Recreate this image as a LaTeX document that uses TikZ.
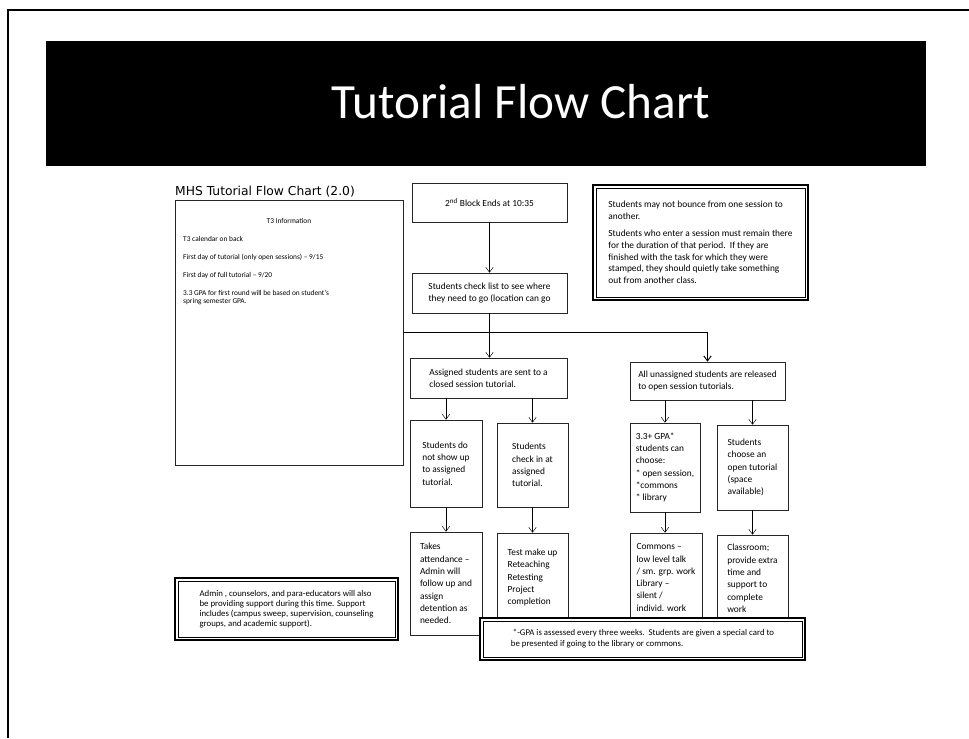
\documentclass[tikz,border=0pt]{standalone}
\usepackage{fontspec}
\setmainfont{Carlito}
\newfontfamily\headfont{DejaVu Sans}
\usetikzlibrary{positioning,arrows.meta}
\tikzset{
  flowbox/.style={draw=black!85,line width=0.5pt,fill=white,align=left,inner xsep=1.5mm,inner ysep=1.5mm,font=\fontsize{8}{10.5}\selectfont},
  notebox/.style={draw=black,line width=2.4pt,fill=white,align=left,inner sep=2mm},
  t3text/.style={inner sep=0pt,font=\fontsize{6.3}{7.5}\selectfont}
}

\begin{document}
\begin{tikzpicture}[x=0.3mm,y=-0.3mm,>={Straight Barb[length=1.5mm,width=2.2mm]}]
  \useasboundingbox (0,0) rectangle (969,738);
  \draw[line width=1.5pt] (8,738) -- (8,10) -- (969,10);
  \node[fill=black,minimum width=264mm,minimum height=37.5mm,inner sep=0pt] (banner) at (486,103.5) {};
  \node[anchor=base,text=white,font=\fontsize{42}{46}\selectfont] (title) at (521,118) {Tutorial Flow Chart};
  \node[anchor=base west,inner sep=0pt,font=\headfont\fontsize{10.5}{12}\selectfont] (heading) at (175,195) {MHS Tutorial Flow Chart (2.0)};

  \node[flowbox,minimum width=68.4mm,minimum height=79.5mm] (t3box) at (289,332.5) {};
  \node[t3text,anchor=base] (t3head) at (289,223) {T3 Information};
  \foreach \yy/\txt in {241/{T3 calendar on back},259/{First day of tutorial (only open sessions) -- 9/15},277/{First day of full tutorial -- 9/20},295/{3.3 GPA for first round will be based on student's},303/{spring semester GPA.}}
    \node[t3text,anchor=base west] (t3line\yy) at (183,\yy) {\txt};

  \node[flowbox,minimum width=46.5mm,minimum height=11.7mm] (blockend) at (489.5,202.5) {2\textsuperscript{nd} Block Ends at 10:35};
  \node[flowbox,minimum width=46.5mm,minimum height=12mm,align=center,font=\fontsize{8}{10}\selectfont] (checklist) at (489.5,293) {Students check list to see where\\they need to go (location can go};
  \node[flowbox,minimum width=47.1mm,minimum height=12mm,font=\fontsize{8}{10}\selectfont] (closed) at (488.5,378) {Assigned students are sent to a\\closed session tutorial.};
  \node[flowbox,minimum width=21.6mm,minimum height=26.1mm] (noshow) at (446,463.5) {Students do\\not show up\\to assigned\\tutorial.};
  \node[flowbox,minimum width=21.3mm,minimum height=25.2mm] (checkin) at (532.5,465) {Students\\check in at\\assigned\\tutorial.};
  \node[flowbox,minimum width=21.6mm,minimum height=30.9mm] (attend) at (446,583.5) {Takes\\attendance --\\Admin will\\follow up and\\assign\\detention as\\needed.};
  \node[flowbox,minimum width=21.3mm,minimum height=26.7mm] (reteach) at (532.5,577.5) {Test make up\\Reteaching\\Retesting\\Project\\completion};

  \node[flowbox,minimum width=46.5mm,minimum height=11.4mm,font=\fontsize{8}{10}\selectfont] (released) at (707.5,381) {All unassigned students are released\\to open session tutorials.};
  \node[flowbox,minimum width=21mm,minimum height=26.7mm] (gpachoice) at (665,467.5) {3.3+ GPA*\\students can\\choose:\\* open session,\\*commons\\* library};
  \node[flowbox,minimum width=21.3mm,minimum height=25.5mm] (choosetut) at (752.5,467.5) {Students\\choose an\\open tutorial\\(space\\available)};
  \node[flowbox,minimum width=21.6mm,minimum height=26.7mm] (commons) at (666,577.5) {Commons --\\low level talk\\/ sm. grp. work\\Library --\\silent /\\individ. work};
  \node[flowbox,minimum width=21.3mm,minimum height=26.1mm] (classroom) at (752.5,578.5) {Classroom;\\provide extra\\time and\\support to\\complete\\work};

  \node[notebox,minimum width=64.5mm,minimum height=34.5mm,font=\fontsize{8}{10}\selectfont] (rules) at (700.5,242.5) {Students may not bounce from one session to\\another.\\[1.2ex]Students who enter a session must remain there\\for the duration of that period.\ \ If they are\\finished with the task for which they were\\stamped, they should quietly take something\\out from another class.};
  \node[notebox,minimum width=66.9mm,minimum height=18.6mm,font=\fontsize{7.5}{8.4}\selectfont] (staff) at (286.5,609) {Admin , counselors, and para-educators will also\\be providing support during this time. Support\\includes (campus sweep, supervision, counseling\\groups, and academic support).};
  \node[notebox,minimum width=97.5mm,minimum height=12.6mm,font=\fontsize{7.5}{9.5}\selectfont] (gpanote) at (642.5,639) {\ *-GPA is assessed every three weeks.\ \ Students are given a special card to\\be presented if going to the library or commons.};
  \foreach \n in {rules,staff,gpanote}
    \draw[line width=0.5pt] ([shift={(1.3mm,1.3mm)}]\n.south west) rectangle ([shift={(-1.3mm,-1.3mm)}]\n.north east);

  \draw[->] (blockend) -- (checklist);
  \draw[->] (checklist.south) -- (checklist.south |- closed.north);
  \draw[->,line width=0.8pt] (t3box.east) -| (released.north);
  \draw[->] (closed.south -| noshow.north) -- (noshow.north);
  \draw[->] (closed.south -| checkin.north) -- (checkin.north);
  \draw[->] (noshow) -- (attend);
  \draw[->] (checkin) -- (reteach);
  \draw[->] (released.south -| gpachoice.north) -- (gpachoice.north);
  \draw[->] (released.south -| choosetut.north) -- (choosetut.north);
  \draw[->] (gpachoice.south) -- (gpachoice.south |- commons.north);
  \draw[->] (choosetut) -- (classroom);
\end{tikzpicture}
\end{document}
